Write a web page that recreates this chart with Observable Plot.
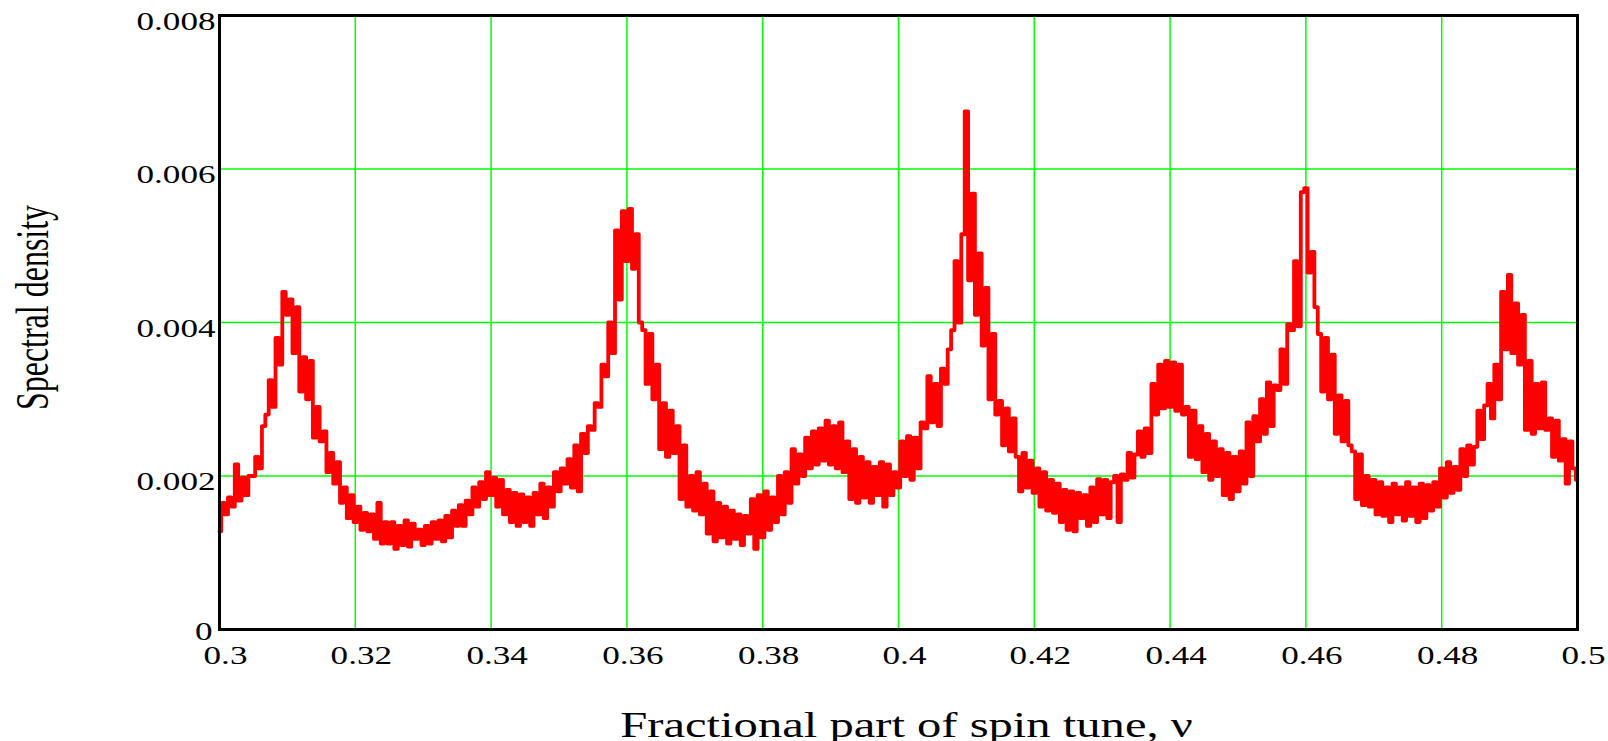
<!DOCTYPE html>
<html>
<head>
<meta charset="utf-8">
<script src="https://cdn.jsdelivr.net/npm/d3@7"></script>
<script src="https://cdn.jsdelivr.net/npm/@observablehq/plot@0.6"></script>
<style>
  html, body { margin: 0; padding: 0; background: #fff; overflow: hidden; }
</style>
</head>
<body>
<div id="chart"></div>
<script>
// Sampling grid of the spectrum (fractional part of spin tune)
const nuStart = 0.3;
const nuStep = 0.0005;

// Spectral density, in units of 1e-5 (one value per sample)
const density_1e5 = [
  128,165,150,172,160,215,168,198,175,200,
  200,225,210,265,280,325,290,380,345,440,
  410,430,360,420,310,355,300,350,250,290,
  245,258,205,230,190,218,165,185,145,175,
  140,160,130,152,128,150,118,165,112,140,
  112,140,105,135,110,142,108,138,118,130,
  110,135,112,140,118,142,115,148,120,155,
  135,162,135,168,150,185,160,192,170,205,
  175,198,160,195,150,182,140,178,135,176,
  140,172,135,178,150,190,145,185,160,205,
  180,210,190,222,185,240,180,255,230,265,
  260,295,290,345,330,400,360,520,430,545,
  480,548,470,515,400,390,320,385,300,345,
  235,295,225,285,230,265,170,240,160,200,
  155,205,150,190,125,180,115,165,120,160,
  112,155,118,150,110,148,125,170,105,175,
  120,180,130,172,140,200,150,205,165,235,
  190,228,200,250,210,258,215,262,220,272,
  215,265,210,270,205,245,170,235,165,225,
  172,218,165,212,175,218,160,215,175,205,
  185,245,200,252,195,250,210,270,262,330,
  270,320,265,340,320,365,390,480,400,515,
  675,455,568,410,490,370,445,300,385,280,
  298,240,288,232,275,225,180,230,185,220,
  178,210,160,205,155,195,152,190,140,182,
  130,180,128,178,145,175,135,185,140,196,
  150,195,145,192,200,140,202,195,230,198,
  228,258,225,262,230,320,280,345,288,350,
  290,348,285,345,280,290,225,285,222,265,
  205,255,195,245,200,235,175,230,170,225,
  180,232,190,270,200,278,245,300,255,322,
  265,318,312,365,320,398,390,480,395,570,
  575,465,492,420,385,310,380,300,358,255,
  305,245,298,240,232,170,228,162,200,160,
  195,150,192,148,185,140,190,150,185,142,
  192,148,185,140,190,145,188,155,192,160,
  210,172,218,178,212,182,235,200,240,215,
  238,285,248,292,320,275,345,300,440,365,
  462,360,425,345,410,260,350,255,320,262,
  322,260,275,225,272,220,248,190,245,210,
  195
];

// Axes
const xTicks = [0.3, 0.32, 0.34, 0.36, 0.38, 0.4, 0.42, 0.44, 0.46, 0.48, 0.5];
const xTickLabels = ["0.3", "0.32", "0.34", "0.36", "0.38", "0.4", "0.42", "0.44", "0.46", "0.48", "0.5"];
const yTicks = [0.002, 0.004, 0.006, 0.008];
const yTickLabels = ["0.002", "0.004", "0.006", "0.008"];
const yZeroTick = [0];
const yZeroLabel = ["0"];
const xGrid = [0.32, 0.34, 0.36, 0.38, 0.4, 0.42, 0.44, 0.46, 0.48];
const yGrid = [0.002, 0.004, 0.006];
const xTitle = "Fractional part of spin tune, \u03BD";
const yTitle = "Spectral density";

const rows = density_1e5.map((v, i) => ({
  nu: +(nuStart + i * nuStep).toFixed(4),
  density: v / 1e5
}));

const chart = Plot.plot({
  width: 1608,
  height: 741,
  marginLeft: 219,
  marginRight: 31,
  marginTop: 15,
  marginBottom: 112,
  style: {
    fontFamily: "'Liberation Serif', 'Times New Roman', serif",
    color: "#000",
    background: "#fff",
    overflow: "visible"
  },
  x: { domain: [0.3, 0.5] },
  y: { domain: [0, 0.008] },
  marks: [
    Plot.gridX({ ticks: xGrid, stroke: "#00ff00", strokeOpacity: 1, strokeWidth: 1.5 }),
    Plot.gridY({ ticks: yGrid, stroke: "#00ff00", strokeOpacity: 1, strokeWidth: 1.5 }),
    Plot.line(rows, { x: "nu", y: "density", stroke: "#ff0000", strokeWidth: 3.8, curve: "step" }),
    Plot.frame({ stroke: "#000", strokeWidth: 3 }),
    Plot.axisX({
      ticks: xTicks,
      tickFormat: d => xTickLabels[xTicks.indexOf(d)],
      tickSize: 0, tickPadding: 16, fontSize: 26, dx: 6, label: null, fill: "#000"
    }),
    Plot.axisY({
      ticks: yTicks,
      tickFormat: d => yTickLabels[yTicks.indexOf(d)],
      tickSize: 0, tickPadding: 4, fontSize: 26, dy: 6, label: null, fill: "#000"
    }),
    Plot.axisY({
      ticks: yZeroTick,
      tickFormat: d => yZeroLabel[yZeroTick.indexOf(d)],
      tickSize: 0, tickPadding: 7, fontSize: 26, dy: 2, label: null, fill: "#000"
    }),
    Plot.text([xTitle], { text: d => d, frameAnchor: "bottom", textAnchor: "middle", lineAnchor: "bottom", dy: 107, dx: 8, fontSize: 36, fill: "#000" }),
    Plot.text([yTitle], { text: d => d, frameAnchor: "left", textAnchor: "middle", rotate: -90, lineAnchor: "bottom", dx: -172, dy: -15, fontSize: 32, fill: "#000" })
  ]
});

// The reference typography is horizontally widened; widen glyphs around each text's anchor.
chart.querySelectorAll("text").forEach(t => {
  const tr = t.getAttribute("transform");
  if (tr) {
    const rotated = /rotate/.test(tr);
    t.setAttribute("transform", tr + (rotated ? " scale(1,1.42)" : " scale(1.35,1)"));
  } else {
    const x = +(t.getAttribute("x") || 0), y = +(t.getAttribute("y") || 0);
    t.removeAttribute("x"); t.removeAttribute("y");
    t.setAttribute("transform", `translate(${x},${y}) scale(1.35,1)`);
  }
});

document.getElementById("chart").appendChild(chart);
</script>
</body>
</html>
